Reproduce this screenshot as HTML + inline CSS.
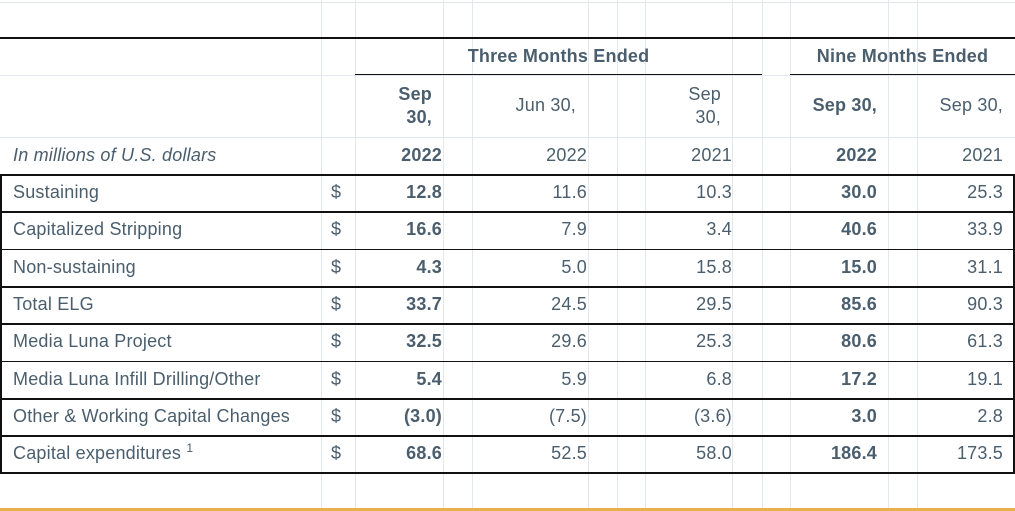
<!DOCTYPE html>
<html><head><meta charset="utf-8">
<style>
body{margin:0;background:#fff;}
#t{position:relative;width:1015px;height:511px;overflow:hidden;background:#fff;font-family:"Liberation Sans",sans-serif;color:#4a5e6d;font-size:18px;letter-spacing:0.2px;}
.v{position:absolute;top:0;height:509px;width:1px;background:#e3e8ef;}
.h{position:absolute;left:0;height:1px;background:#e3e8ef;width:1015px;}
.b{position:absolute;background:#111;}
.tx{position:absolute;white-space:nowrap;line-height:20px;}
.r{text-align:right;}
.c{text-align:center;}
.bd{font-weight:bold;}
</style></head><body>
<div id="t">
<div class="h" style="top:2px"></div>
<div class="h" style="top:75px"></div>
<div class="h" style="top:137px"></div>
<div style="position:absolute;left:0;top:508px;width:1015px;height:3px;background:#e8b04a"></div>
<div class="b" style="left:0;top:37px;width:1015px;height:2px"></div>
<div class="b" style="left:355px;top:74px;width:407px;height:1px"></div>
<div class="b" style="left:790px;top:74px;width:225px;height:1px"></div>
<div class="tx c bd" style="left:355px;width:407px;top:46px">Three Months Ended</div>
<div class="tx c bd" style="left:790px;width:225px;top:46px">Nine Months Ended</div>
<div class="tx r bd" style="left:355px;width:77px;top:83px;line-height:23px">Sep<br>30,</div>
<div class="tx r" style="left:472px;width:104px;top:95px">Jun 30,</div>
<div class="tx r" style="left:645px;width:76px;top:83px;line-height:23px">Sep<br>30,</div>
<div class="tx r bd" style="left:790px;width:87px;top:95px">Sep 30,</div>
<div class="tx r" style="left:917px;width:86px;top:95px">Sep 30,</div>
<div class="tx" style="left:13px;top:145px;font-style:italic">In millions of U.S. dollars</div>
<div class="tx r bd" style="left:355px;width:87px;top:145px">2022</div>
<div class="tx r" style="left:472px;width:115px;top:145px">2022</div>
<div class="tx r" style="left:645px;width:87px;top:145px">2021</div>
<div class="tx r bd" style="left:790px;width:87px;top:145px">2022</div>
<div class="tx r" style="left:917px;width:86px;top:145px">2021</div>
</div>
<script>
const labels=["Sustaining","Capitalized Stripping","Non-sustaining","Total ELG","Media Luna Project","Media Luna Infill Drilling/Other","Other & Working Capital Changes","Capital expenditures"];
const q3_2022=["12.8","16.6","4.3","33.7","32.5","5.4","(3.0)","68.6"];
const q2_2022=["11.6","7.9","5.0","24.5","29.6","5.9","(7.5)","52.5"];
const q3_2021=["10.3","3.4","15.8","29.5","25.3","6.8","(3.6)","58.0"];
const m9_2022=["30.0","40.6","15.0","85.6","80.6","17.2","3.0","186.4"];
const m9_2021=["25.3","33.9","31.1","90.3","61.3","19.1","2.8","173.5"];
const t=document.getElementById('t');
[321,355,443,472,588,617,645,732,762,790,888,917].forEach(x=>{
 const d=document.createElement('div');d.className='v';d.style.left=x+'px';
 
 
 t.insertBefore(d,t.firstChild);
});
const top0=174,rh=37.3;
const thin=[2,5];
for(let i=0;i<=labels.length;i++){
 const y=Math.round(top0+i*rh);
 const d=document.createElement('div');d.className='b';
 d.style.cssText='left:0;width:1015px;top:'+y+'px;height:'+(thin.includes(i)?1:2)+'px';
 
 
 t.appendChild(d);
}
['0','1013'].forEach(x=>{
 const d=document.createElement('div');d.className='b';
 d.style.cssText='left:'+x+'px;width:2px;top:174px;height:'+Math.round(labels.length*rh+2)+'px';
 
 
 t.appendChild(d);
});
function cell(txt,x,w,y,cls,name){
 const d=document.createElement('div');d.className='tx '+cls;
 d.style.left=x+'px';d.style.top=y+'px';if(w)d.style.width=w+'px';
 d.innerHTML=txt;
 
 
 t.appendChild(d);
}
labels.forEach((l,i)=>{
 const y=Math.round(top0+i*rh+8);
 cell(l+(i===7?' <sup style="font-size:12px;vertical-align:7px;line-height:0">1</sup>':''),13,0,y,'','row-label');
 cell('$',331,0,y,'','dollar-sign');
 cell(q3_2022[i],355,87,y,'r bd','value-q3-2022');
 cell(q2_2022[i],472,115,y,'r','value-q2-2022');
 cell(q3_2021[i],645,87,y,'r','value-q3-2021');
 cell(m9_2022[i],790,87,y,'r bd','value-9m-2022');
 cell(m9_2021[i],917,86,y,'r','value-9m-2021');
});
</script>
</body></html>
